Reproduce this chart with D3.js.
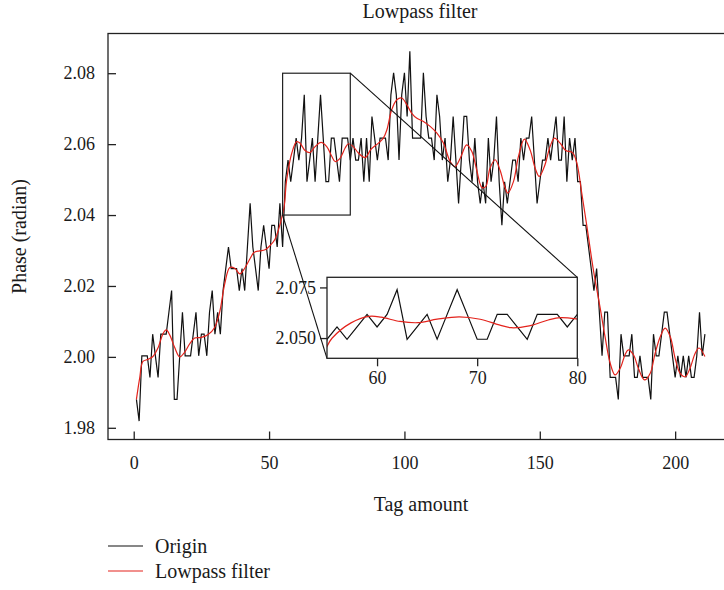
<!DOCTYPE html>
<html><head><meta charset="utf-8">
<script src="https://cdn.jsdelivr.net/npm/d3@7/dist/d3.min.js"></script>
<style>
body{margin:0;background:#fff}
svg{display:block}
text{font-family:"Liberation Serif","DejaVu Serif",serif;fill:#1a1a1a}
</style>
</head><body>
<svg id="c" width="724" height="590"></svg>
<script>
// ---------- data ----------
const titleText = "Lowpass filter";
const xLabel = "Tag amount";
const yLabel = "Phase (radian)";
const seriesNames = ["Origin", "Lowpass filter"];

// Origin phase, one value per tag (tags 1..211)
const origin = [
1.9880,1.9819,2.0003,2.0003,2.0003,1.9942,2.0064,2.0003,1.9942,2.0064,
2.0064,2.0064,2.0126,2.0187,1.9880,1.9880,2.0003,2.0126,2.0003,2.0003,
2.0003,2.0064,2.0126,2.0003,2.0064,2.0064,2.0003,2.0126,2.0187,2.0064,
2.0126,2.0064,2.0187,2.0249,2.0310,2.0249,2.0249,2.0249,2.0187,2.0249,
2.0187,2.0310,2.0433,2.0310,2.0249,2.0187,2.0310,2.0371,2.0310,2.0249,
2.0371,2.0371,2.0310,2.0433,2.0310,2.0494,2.0555,2.0494,2.0555,2.0617,
2.0555,2.0617,2.0739,2.0494,2.0555,2.0617,2.0494,2.0617,2.0739,2.0617,
2.0494,2.0494,2.0617,2.0617,2.0555,2.0494,2.0617,2.0617,2.0617,2.0555,
2.0617,2.0555,2.0555,2.0617,2.0494,2.0617,2.0494,2.0678,2.0617,2.0555,
2.0617,2.0617,2.0617,2.0555,2.0739,2.0801,2.0739,2.0555,2.0739,2.0801,
2.0678,2.0862,2.0617,2.0617,2.0617,2.0617,2.0801,2.0678,2.0617,2.0617,
2.0555,2.0739,2.0678,2.0555,2.0617,2.0494,2.0555,2.0678,2.0555,2.0433,
2.0555,2.0678,2.0678,2.0555,2.0494,2.0617,2.0494,2.0433,2.0494,2.0433,
2.0617,2.0494,2.0555,2.0678,2.0494,2.0371,2.0494,2.0433,2.0494,2.0555,
2.0555,2.0494,2.0617,2.0555,2.0617,2.0617,2.0678,2.0555,2.0433,2.0494,
2.0555,2.0555,2.0617,2.0555,2.0617,2.0678,2.0555,2.0555,2.0678,2.0494,
2.0617,2.0555,2.0617,2.0494,2.0494,2.0371,2.0371,2.0310,2.0249,2.0187,
2.0249,2.0126,2.0003,2.0126,2.0126,1.9942,1.9942,1.9942,1.9880,2.0064,
2.0003,2.0003,2.0003,2.0064,1.9942,1.9942,2.0003,1.9942,1.9942,1.9942,
1.9880,2.0064,2.0003,2.0003,2.0064,2.0126,2.0126,2.0064,2.0003,1.9942,
2.0003,1.9942,2.0003,1.9942,2.0003,1.9942,1.9942,2.0003,2.0126,2.0003,2.0064
];

// Lowpass filter curve, read at these tag positions
const lowX = [1,2.2,3.4,5.3,7.1,9,10.8,12,13.3,15.1,17,18.8,20.7,22.5,25,27.5,29.9,31.8,33.6,35.5,
37.3,39.2,41,42.9,44.5,46.5,48.5,50.5,52.2,54.1,55.5,56.5,58.4,60.2,61.4,63.3,65.1,67,69.2,71.3,
73.2,74.4,76.2,78.1,79.3,81.1,83,85.5,87.6,90.4,92.2,93.5,95.3,97.2,99,100.9,102.7,104.6,107,109.5,
112,114.4,116.9,118.7,120.6,123,124.9,126.7,128.6,130,131.6,133.5,135.3,137.2,138.2,140.3,142.1,144.3,146.4,148.3,
149.8,151.7,153.8,155.4,157.5,159.6,162.1,163.7,165.5,167.4,169.8,172.3,174.1,176,177.8,179.7,181.5,182.7,184.6,186.4,
188.7,190.8,192.6,194.5,196.3,198.2,200,201.8,203.7,205.5,207.4,208.8,211];
const lowY = [1.9880,1.9940,1.9987,1.9993,2.0001,2.0026,2.0065,2.0076,2.0062,2.0027,2.0000,2.0013,2.0037,2.0053,2.0055,2.0063,2.0083,2.0128,2.0205,2.0252,
2.0250,2.0234,2.0250,2.0276,2.0295,2.0299,2.0302,2.0315,2.0332,2.0375,2.0420,2.0499,2.0575,2.0607,2.0603,2.0582,2.0576,2.0593,2.0605,2.0593,
2.0565,2.0551,2.0560,2.0589,2.0601,2.0593,2.0575,2.0562,2.0585,2.0603,2.0617,2.0640,2.0697,2.0725,2.0730,2.0711,2.0687,2.0673,2.0664,2.0650,
2.0631,2.0603,2.0551,2.0537,2.0560,2.0598,2.0579,2.0527,2.0478,2.0480,2.0532,2.0556,2.0527,2.0476,2.0462,2.0495,2.0565,2.0614,2.0584,2.0532,
2.0509,2.0537,2.0593,2.0617,2.0603,2.0582,2.0576,2.0546,2.0462,2.0368,2.0245,2.0138,2.0057,1.9982,1.9949,1.9968,2.0006,2.0020,2.0006,1.9968,
1.9935,1.9954,2.0010,2.0057,2.0081,2.0057,1.9996,1.9954,1.9944,1.9968,2.0010,2.0025,2.0001];

const xTicks = [0,50,100,150,200];
const yTicks = [1.98,2.00,2.02,2.04,2.06,2.08];
const zoomXRange = [55,80];
const zoomYRange = [2.04,2.08];
const insetXTicks = [60,70,80];
const insetYTicks = [2.050,2.075];
const insetLag = 1; // the inset in the source trails the main plot by one tag

// ---------- drawing ----------
const svg = d3.select("#c");
const black = "#111", red = "#e3231c", frame = "#222";
const fs = 20, fsNum = 18;

const x = d3.scaleLinear().domain([-9.5,221]).range([108,732]);
const y = d3.scaleLinear().domain([1.9767,2.0912]).range([439.5,33.5]);

const originPts = origin.map((v,i)=>[i+1,v]);
const lowPts = lowX.map((t,i)=>[t,lowY[i]]);

// frame
svg.append("rect").attr("x",x.range()[0]).attr("y",y.range()[1])
  .attr("width",x.range()[1]-x.range()[0]).attr("height",y.range()[0]-y.range()[1])
  .attr("fill","none").attr("stroke",frame).attr("stroke-width",1.3);

// axes (ticks inward)
const ax = svg.append("g").attr("transform",`translate(0,${y.range()[0]})`)
  .call(d3.axisBottom(x).tickValues(xTicks).tickSize(-8).tickSizeOuter(0).tickPadding(17).tickFormat(d3.format("d")));
const ay = svg.append("g").attr("transform",`translate(${x.range()[0]},0)`)
  .call(d3.axisLeft(y).tickValues(yTicks).tickSize(-8).tickSizeOuter(0).tickPadding(13).tickFormat(d3.format(".2f")));
[ax,ay].forEach(g=>{
  g.select(".domain").remove();
  g.selectAll(".tick line").attr("stroke",frame).attr("stroke-width",1.3);
  g.selectAll(".tick text").attr("font-size",fsNum).attr("font-family","Liberation Serif").attr("fill","#1a1a1a");
});

// series
const line = d3.line().x(d=>x(d[0])).y(d=>y(d[1]));
const smooth = d3.line().x(d=>x(d[0])).y(d=>y(d[1])).curve(d3.curveCatmullRom.alpha(0.5));
svg.append("path").datum(originPts).attr("d",line).attr("fill","none").attr("stroke",black).attr("stroke-width",1.2).attr("stroke-linejoin","miter");
svg.append("path").datum(lowPts).attr("d",smooth).attr("fill","none").attr("stroke",red).attr("stroke-width",1.2);

// zoom rectangle in main plot
svg.append("rect").attr("x",x(zoomXRange[0])).attr("y",y(zoomYRange[1]))
  .attr("width",x(zoomXRange[1])-x(zoomXRange[0])).attr("height",y(zoomYRange[0])-y(zoomYRange[1]))
  .attr("fill","none").attr("stroke",frame).attr("stroke-width",1.2);

// inset
const ix = d3.scaleLinear().domain(zoomXRange).range([327,577.3]);
const iy = d3.scaleLinear().domain(zoomYRange).range([358.3,277.3]);

// connector lines
svg.append("line").attr("x1",x(zoomXRange[1])).attr("y1",y(zoomYRange[1]))
  .attr("x2",ix(zoomXRange[1])).attr("y2",iy(zoomYRange[1])).attr("stroke",black).attr("stroke-width",1.1);
svg.append("line").attr("x1",x(zoomXRange[0])).attr("y1",y(zoomYRange[0]))
  .attr("x2",ix(zoomXRange[0])).attr("y2",iy(zoomYRange[0])).attr("stroke",black).attr("stroke-width",1.1);

const ig = svg.append("g");
ig.append("rect").attr("x",ix.range()[0]).attr("y",iy.range()[1])
  .attr("width",ix.range()[1]-ix.range()[0]).attr("height",iy.range()[0]-iy.range()[1]).attr("fill","#fff");
svg.append("clipPath").attr("id","ic").append("rect").attr("x",ix.range()[0]).attr("y",iy.range()[1])
  .attr("width",ix.range()[1]-ix.range()[0]).attr("height",iy.range()[0]-iy.range()[1]);
const iline = d3.line().x(d=>ix(d[0]-insetLag)).y(d=>iy(d[1]));
const ismooth = d3.line().x(d=>ix(d[0]-insetLag)).y(d=>iy(d[1])).curve(d3.curveCatmullRom.alpha(0.5));
const inOrigin = originPts.filter(d=>d[0]-insetLag>=zoomXRange[0]-1 && d[0]-insetLag<=zoomXRange[1]+1);
const inLow = lowPts.filter(d=>d[0]-insetLag>=zoomXRange[0]-4 && d[0]-insetLag<=zoomXRange[1]+4);
const clipG = ig.append("g").attr("clip-path","url(#ic)");
clipG.append("path").datum(inOrigin).attr("d",iline).attr("fill","none").attr("stroke",black).attr("stroke-width",1.2);
clipG.append("path").datum(inLow).attr("d",ismooth).attr("fill","none").attr("stroke",red).attr("stroke-width",1.2);
ig.append("rect").attr("x",ix.range()[0]).attr("y",iy.range()[1])
  .attr("width",ix.range()[1]-ix.range()[0]).attr("height",iy.range()[0]-iy.range()[1])
  .attr("fill","none").attr("stroke",frame).attr("stroke-width",1.3);
const iax = ig.append("g").attr("transform",`translate(0,${iy.range()[0]})`)
  .call(d3.axisBottom(ix).tickValues(insetXTicks).tickSize(8).tickSizeOuter(0).tickPadding(5).tickFormat(d3.format("d")));
const iay = ig.append("g").attr("transform",`translate(${ix.range()[0]},0)`)
  .call(d3.axisLeft(iy).tickValues(insetYTicks).tickSize(7).tickSizeOuter(0).tickPadding(4).tickFormat(d3.format(".3f")));
[iax,iay].forEach(g=>{
  g.select(".domain").remove();
  g.selectAll(".tick line").attr("stroke",frame).attr("stroke-width",1.3);
  g.selectAll(".tick text").attr("font-size",fsNum).attr("font-family","Liberation Serif").attr("fill","#1a1a1a");
});

// titles
svg.append("text").attr("x",420).attr("y",18).attr("text-anchor","middle").attr("font-size",fs).text(titleText);
svg.append("text").attr("x",421).attr("y",511).attr("text-anchor","middle").attr("font-size",fs).text(xLabel);
svg.append("text").attr("transform","translate(26,236.5) rotate(-90)").attr("text-anchor","middle").attr("font-size",fs).text(yLabel);

// legend
const legColors = [black, red];
const lg = svg.append("g");
seriesNames.forEach((n,i)=>{
  const yy = 546 + i*25;
  lg.append("line").attr("x1",108).attr("x2",143).attr("y1",yy).attr("y2",yy).attr("stroke",legColors[i]).attr("stroke-width",1.2);
  lg.append("text").attr("x",155).attr("y",yy).attr("dy","0.35em").attr("font-size",fs).text(n);
});
</script>
</body></html>
